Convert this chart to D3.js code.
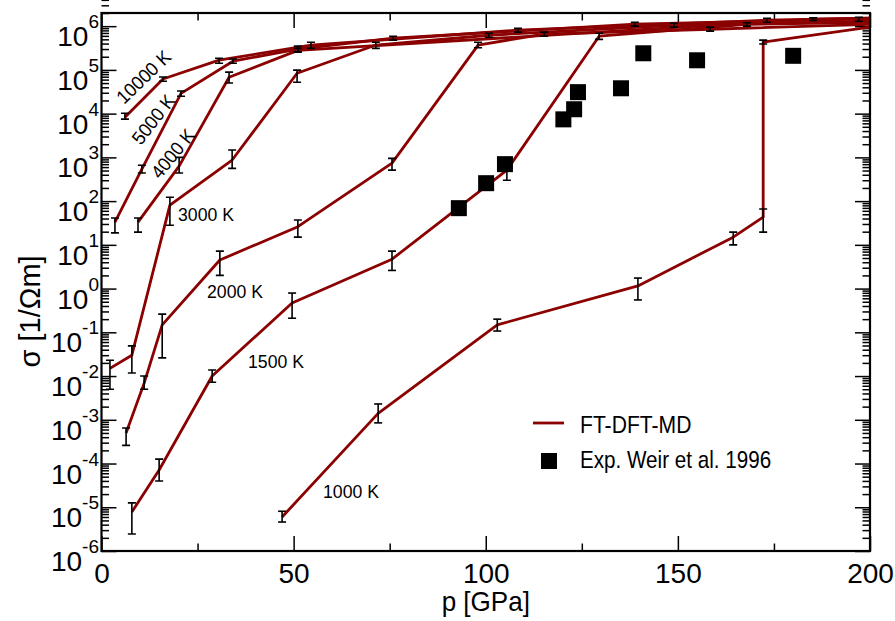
<!DOCTYPE html>
<html>
<head>
<meta charset="utf-8">
<script src="https://cdn.jsdelivr.net/npm/d3@7"></script>
<style>
  body { margin: 0; background: #fff; }
  svg { display: block; font-family: "Liberation Sans", Arial, Helvetica, sans-serif; }
</style>
</head>
<body>
<svg id="chart" width="895" height="621"></svg>
<script>
// ---- FT-DFT-MD conductivity isotherms: pressure (GPa), sigma (1/Ohm m), error bar bounds ----
const p1000  = [47.0, 72.0, 103.0, 139.6, 164.4, 172.2, 172.2, 200];
const s1000  = [6.0e-6, 1.4e-3, 0.148, 1.15, 15, 43, 4.3e5, 9.5e5];
const lo1000 = [4.6e-6, 8.5e-4, 0.107, 0.55, 10, 19.5, 3.9e5, null];
const hi1000 = [8.1e-6, 2.3e-3, 0.20, 1.74, 19.5, 66, 4.8e5, null];

const p1500  = [7.9, 15.0, 28.8, 49.6, 75.6, 105.5, 129.5, 168.0, 200];
const s1500  = [7.8e-6, 7.1e-5, 0.010, 0.47, 4.7, 510, 5.9e5, 1.1e6, 1.23e6];
const lo1500 = [2.45e-6, 4.0e-5, 7.2e-3, 0.21, 2.6, 300, 5.0e5, 1.0e6, null];
const hi1500 = [1.26e-5, 1.26e-4, 0.0138, 0.79, 7.2, 740, 6.9e5, 1.2e6, null];

const p2000  = [6.4, 11.1, 15.8, 30.8, 51.1, 75.6, 98.0, 115.2, 158.4, 200];
const s2000  = [5.0e-4, 6.9e-3, 0.148, 4.5, 26, 740, 3.7e5, 6.6e5, 8.5e5, 1.1e6];
const lo2000 = [2.6e-4, 5.0e-3, 0.026, 2.0, 15, 510, 3.2e5, 5.9e5, 7.7e5, null];
const hi2000 = [6.5e-4, 0.010, 0.26, 7.2, 37, 950, 4.3e5, 7.3e5, 9.5e5, null];

const p3000  = [2.2, 7.9, 17.8, 34.0, 50.9, 71.4, 100.8, 149.0, 200];
const s3000  = [0.015, 0.030, 81, 870, 8.4e4, 3.7e5, 6.2e5, 1.05e6, 1.3e6];
const lo3000 = [5.0e-3, 0.0117, 28, 560, 5.2e4, 3.1e5, 5.6e5, 9.5e5, null];
const hi3000 = [0.023, 0.049, 123, 1480, 9.9e4, 4.3e5, 6.9e5, 1.17e6, null];

const p4000  = [9.5, 20.2, 33.2, 51.1, 185.2, 200];
const s4000  = [33, 630, 6.8e4, 2.8e5, 1.45e6, 1.52e6];
const lo4000 = [19.5, 440, 5.0e4, 2.6e5, 1.36e6, null];
const hi4000 = [41, 1000, 8.9e4, 3.1e5, 1.55e6, null];

const p5000  = [3.5, 10.5, 20.7, 34.2, 51.1, 75.9, 138.8, 197.1, 200];
const s5000  = [33, 540, 2.9e4, 1.58e5, 3.0e5, 5.3e5, 1.11e6, 1.45e6, 1.5e6];
const lo5000 = [18.8, 440, 2.5e4, 1.42e5, 2.55e5, 4.8e5, 1.0e6, 1.3e6, null];
const hi5000 = [41, 660, 3.3e4, 1.77e5, 3.5e5, 5.9e5, 1.23e6, 1.6e6, null];

const p10000  = [6.1, 16.0, 30.6, 54.5, 108.4, 173.2, 200];
const s10000  = [8.3e3, 6.2e4, 1.67e5, 3.7e5, 8.1e5, 1.37e6, 1.52e6];
const lo10000 = [7.5e3, 5.5e4, 1.42e5, 3.1e5, 7.3e5, 1.23e6, null];
const hi10000 = [1.02e4, 6.9e4, 1.85e5, 4.3e5, 8.9e5, 1.52e6, null];

// ---- Experiment (Weir et al. 1996) ----
const pExp = [93.0, 100.1, 105.0, 120.2, 123.0, 124.0, 135.2, 141.0, 155.0, 180.0];
const sExp = [69, 257, 700, 7.4e3, 1.26e4, 3.1e4, 3.8e4, 2.4e5, 1.66e5, 2.1e5];

// ---- Axis ticks ----
const xMajor = [0, 50, 100, 150, 200];
const xMinor = [25, 75, 125, 175];
const yExponents = [-6, -5, -4, -3, -2, -1, 0, 1, 2, 3, 4, 5, 6];

const series = [
  { p: p1000,  s: s1000,  lo: lo1000,  hi: hi1000 },
  { p: p1500,  s: s1500,  lo: lo1500,  hi: hi1500 },
  { p: p2000,  s: s2000,  lo: lo2000,  hi: hi2000 },
  { p: p3000,  s: s3000,  lo: lo3000,  hi: hi3000 },
  { p: p4000,  s: s4000,  lo: lo4000,  hi: hi4000 },
  { p: p5000,  s: s5000,  lo: lo5000,  hi: hi5000 },
  { p: p10000, s: s10000, lo: lo10000, hi: hi10000 }
].map(d => d.p.map((pv, i) => ({ p: pv, s: d.s[i], lo: d.lo[i], hi: d.hi[i] })));

const exp = pExp.map((pv, i) => ({ p: pv, s: sExp[i] }));

// ---- Layout ----
const L = 101.5, R = 870, T = 13, B = 551;
const RED = "#8b0000";

const svg = d3.select("#chart");
const x = d3.scaleLinear().domain([0, 200]).range([L, R]);
const y = d3.scaleLog().domain([1e-6, 2e6]).range([B, T]);

svg.append("defs").append("clipPath").attr("id", "plotclip")
  .append("rect").attr("x", L).attr("y", T).attr("width", R - L).attr("height", B - T);

// text helper: narrow glyphs via horizontal scaling
function label(g, tx, ty, str, size, sx, rot, anchor) {
  return g.append("text")
    .attr("transform", `translate(${tx},${ty}) rotate(${rot || 0}) scale(${sx},1)`)
    .attr("font-size", size)
    .attr("text-anchor", anchor || "start")
    .attr("fill", "#000")
    .text(str);
}

// ---- Ticks ----
const yMinor = [];
yExponents.forEach(e => { for (let k = 2; k <= 9; k++) yMinor.push(k * Math.pow(10, e)); });
const yMajor = yExponents.map(e => Math.pow(10, e));

function styleAxis(g) {
  g.select(".domain").remove();
  g.selectAll(".tick line").attr("stroke", "#000").attr("stroke-width", 1.5);
}

svg.append("g").attr("transform", `translate(0,${B})`)
  .call(d3.axisBottom(x).tickValues(xMajor).tickSizeInner(-15).tickSizeOuter(0)
    .tickPadding(12).tickFormat(d3.format("d")))
  .call(styleAxis)
  .call(g => g.selectAll("text").attr("font-size", 28).attr("fill", "#000")
    .attr("font-family", "Liberation Sans, Arial, sans-serif"));
svg.append("g").attr("transform", `translate(0,${B})`)
  .call(d3.axisBottom(x).tickValues(xMinor).tickSizeInner(-7.5).tickSizeOuter(0).tickFormat(""))
  .call(styleAxis);
svg.append("g").attr("transform", `translate(0,${T})`)
  .call(d3.axisTop(x).tickValues(xMajor).tickSizeInner(-15).tickSizeOuter(0).tickFormat(""))
  .call(styleAxis);
svg.append("g").attr("transform", `translate(0,${T})`)
  .call(d3.axisTop(x).tickValues(xMinor).tickSizeInner(-7.5).tickSizeOuter(0).tickFormat(""))
  .call(styleAxis);

svg.append("g").attr("transform", `translate(${L},0)`)
  .call(d3.axisLeft(y).tickValues(yMajor).tickSizeInner(-15).tickSizeOuter(0).tickFormat(""))
  .call(styleAxis);
svg.append("g").attr("transform", `translate(${L},0)`)
  .call(d3.axisLeft(y).tickValues(yMinor).tickSizeInner(-7.5).tickSizeOuter(0).tickFormat(""))
  .call(styleAxis);
svg.append("g").attr("transform", `translate(${R},0)`)
  .call(d3.axisRight(y).tickValues(yMajor).tickSizeInner(-15).tickSizeOuter(0).tickFormat(""))
  .call(styleAxis);
svg.append("g").attr("transform", `translate(${R},0)`)
  .call(d3.axisRight(y).tickValues(yMinor).tickSizeInner(-7.5).tickSizeOuter(0).tickFormat(""))
  .call(styleAxis);

// y tick labels as powers of ten
const yLab = svg.append("g");
yExponents.forEach(e => {
  const ty = y(Math.pow(10, e));
  const t = yLab.append("text")
    .attr("x", 99).attr("y", ty + 20)
    .attr("text-anchor", "end").attr("font-size", 28).attr("fill", "#000");
  t.append("tspan").text("10");
  t.append("tspan").attr("font-size", 19).attr("dy", -18).text(String(e));
});

// ---- Axis titles ----
label(svg, x(100), 611, "p [GPa]", 28, 0.93, 0, "middle");
label(svg, 40, y(0.3), "σ [1/Ωm]", 29, 1, -90, "middle");

// ---- Model curves ----
const plotG = svg.append("g").attr("clip-path", "url(#plotclip)");
const line = d3.line().x(d => x(d.p)).y(d => y(d.s));
plotG.selectAll("path.iso").data(series).enter().append("path")
  .attr("class", "iso")
  .attr("d", line)
  .attr("fill", "none")
  .attr("stroke", RED)
  .attr("stroke-width", 2.8)
  .attr("stroke-linejoin", "round");

// error bars
const errs = series.flat().filter(d => d.lo != null && d.hi != null);
const eb = plotG.append("g").attr("stroke", "#000").attr("stroke-width", 1.6);
errs.forEach(d => {
  const cx = x(d.p), y1 = y(d.lo), y2 = y(d.hi);
  eb.append("line").attr("x1", cx).attr("x2", cx).attr("y1", y1).attr("y2", y2);
  eb.append("line").attr("x1", cx - 4).attr("x2", cx + 4).attr("y1", y1).attr("y2", y1);
  eb.append("line").attr("x1", cx - 4).attr("x2", cx + 4).attr("y1", y2).attr("y2", y2);
});

// experimental points
const sq = 16;
plotG.selectAll("rect.exp").data(exp).enter().append("rect")
  .attr("class", "exp")
  .attr("x", d => x(d.p) - sq / 2).attr("y", d => y(d.s) - sq / 2)
  .attr("width", sq).attr("height", sq).attr("fill", "#000");

// ---- Isotherm labels ----
const ann = svg.append("g");
label(ann, 124, 105, "10000 K", 19, 0.95, -44);
label(ann, 141, 146, "5000 K", 19, 0.95, -52);
label(ann, 160, 180, "4000 K", 19, 0.95, -51);
label(ann, 178, 221, "3000 K", 19, 0.93);
label(ann, 207, 298, "2000 K", 19, 0.93);
label(ann, 248, 368, "1500 K", 19, 0.93);
label(ann, 323, 498, "1000 K", 19, 0.93);

// ---- Frame ----
svg.append("rect").attr("x", L).attr("y", T).attr("width", R - L).attr("height", B - T)
  .attr("fill", "none").attr("stroke", "#000").attr("stroke-width", 2.2);

// ---- Legend ----
const lg = svg.append("g");
lg.append("line").attr("x1", 533).attr("x2", 564).attr("y1", 423).attr("y2", 423)
  .attr("stroke", RED).attr("stroke-width", 2.8);
label(lg, 580, 433, "FT-DFT-MD", 24, 0.88);
lg.append("rect").attr("x", 541).attr("y", 453).attr("width", sq).attr("height", sq).attr("fill", "#000");
label(lg, 580, 468, "Exp. Weir et al. 1996", 24, 0.86);
</script>
</body>
</html>
